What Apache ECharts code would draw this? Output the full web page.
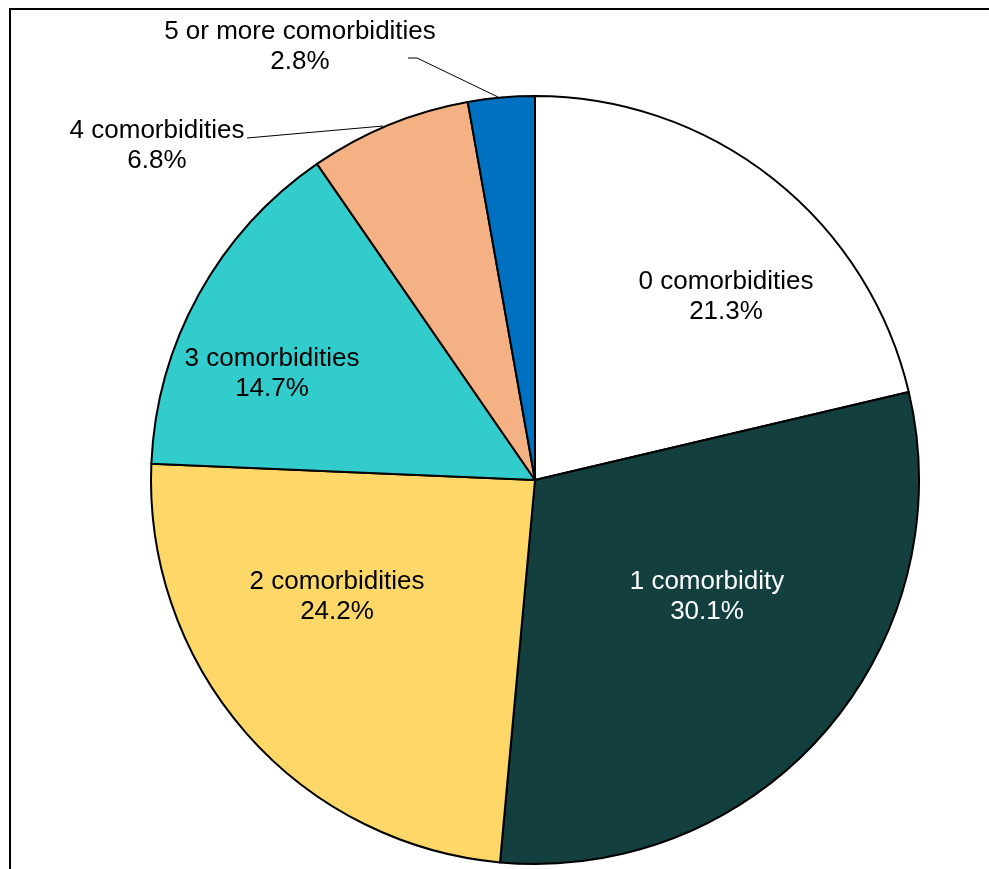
<!DOCTYPE html>
<html>
<head>
<meta charset="utf-8">
<script src="https://cdn.jsdelivr.net/npm/echarts@6/dist/echarts.min.js"></script>
<style>
html,body{margin:0;padding:0;background:#fff;}
#chart{width:989px;height:869px;}
</style>
</head>
<body>
<div id="chart"></div>
<script>
const categories = ['0 comorbidities', '1 comorbidity', '2 comorbidities', '3 comorbidities', '4 comorbidities', '5 or more comorbidities'];
const shares = [21.3, 30.1, 24.2, 14.7, 6.8, 2.8];
const colors = ['#ffffff', '#133f3f', '#fdd868', '#33cccc', '#f4b183', '#0070c0'];
const labelColors = ['#000000', '#ffffff', '#000000', '#000000', '#000000', '#000000'];

// label block centres and leader-line routes (layout only)
const labelSpots = [[726, 297], [707, 597], [337, 597], [272, 374], [157, 146], [300, 47]];
const leaderRoutes = {
  4: [[383, 126], [247, 138]],
  5: [[498, 97], [417, 58], [408, 58]]
};

const chart = echarts.init(document.getElementById('chart'), null, {renderer: 'canvas'});
chart.setOption({
  animation: false,
  backgroundColor: '#ffffff',
  graphic: [{
    type: 'rect',
    shape: {x: 10, y: 9, width: 1200, height: 1200},
    style: {fill: 'none', stroke: '#000', lineWidth: 2},
    silent: true,
    z: 0
  }],
  series: [{
    type: 'pie',
    center: [535, 480],
    radius: 384,
    startAngle: 90,
    clockwise: true,
    avoidLabelOverlap: false,
    itemStyle: {borderColor: '#000', borderWidth: 2},
    data: categories.map((c, i) => ({
      name: c,
      value: shares[i],
      itemStyle: {color: colors[i]},
      label: {
        show: true,
        position: i >= 4 ? 'outside' : 'inside',
        color: labelColors[i]
      },
      labelLine: {show: i >= 4, length: 10, length2: 10, lineStyle: {color: '#000', width: 1}}
    })),
    label: {
      fontFamily: '"Liberation Sans", Arial, sans-serif',
      fontSize: 26,
      lineHeight: 30,
      align: 'center',
      formatter: p => p.name + '\n' + p.value.toFixed(1) + '%'
    },
    labelLayout: function (p) {
      const s = labelSpots[p.dataIndex];
      const out = {x: s[0], y: s[1], align: 'center', verticalAlign: 'middle', hideOverlap: false};
      if (leaderRoutes[p.dataIndex]) out.labelLinePoints = leaderRoutes[p.dataIndex];
      return out;
    }
  }]
});
</script>
</body>
</html>
